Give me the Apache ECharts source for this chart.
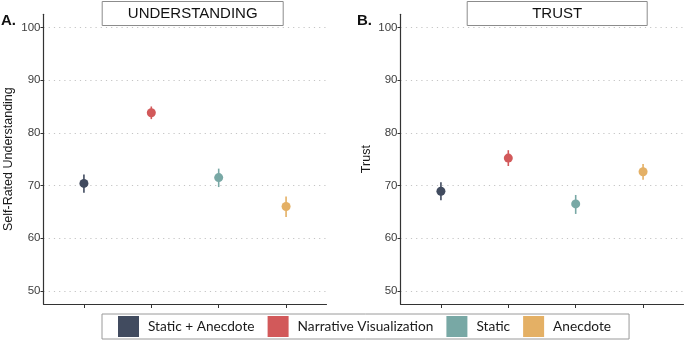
<!DOCTYPE html>
<html>
<head>
<meta charset="utf-8">
<script src="https://cdn.jsdelivr.net/npm/echarts@6/dist/echarts.min.js"></script>
<style>
  html, body { margin: 0; padding: 0; background: #fff; }
  #chart { width: 685px; height: 342px; }
</style>
</head>
<body>
<div id="chart"></div>
<script>
// groups in plotting order
const groups = ['Static + Anecdote', 'Narrative Visualization', 'Static', 'Anecdote']
const groupColors = ['#414b5f', '#d2595a', '#78a8a5', '#e4b065']
const xPositions = [1, 2, 3, 4]

// panel A: self-rated understanding
const understandingMean = [70.4, 83.8, 71.5, 66.0]
const understandingLow = [68.6, 82.6, 69.7, 64.0]
const understandingHigh = [72.1, 85.0, 73.2, 67.9]

// panel B: trust
const trustMean = [68.9, 75.2, 66.5, 72.6]
const trustLow = [67.2, 73.7, 64.6, 71.1]
const trustHigh = [70.6, 76.7, 68.2, 74.1]

const yTicks = [50, 60, 70, 80, 90, 100]

const font = '"Liberation Sans", Arial, sans-serif'

function yAxisFor(gridIndex, title, nameGap) {
  return {
    gridIndex: gridIndex,
    type: 'value',
    min: 47.5,
    max: 102.5,
    name: title,
    nameLocation: 'middle',
    nameGap: nameGap,
    nameTextStyle: { color: '#1a1a1a', fontSize: 12.5, fontFamily: font },
    axisLine: { show: true, lineStyle: { color: '#333', width: 1.2 } },
    axisTick: { show: true, length: 3, customValues: yTicks, lineStyle: { color: '#333' } },
    axisLabel: { customValues: yTicks, color: '#3d3d3d', fontSize: 11.5, fontFamily: font, margin: 3 },
    splitLine: { show: true, lineStyle: { color: '#c4c4c4', type: [1.2, 4], width: 1 } },
  }
}

function xAxisFor(gridIndex) {
  return {
    gridIndex: gridIndex,
    type: 'value',
    min: 0.4,
    max: 4.6,
    axisLine: { show: true, onZero: false, lineStyle: { color: '#333', width: 1.2 } },
    axisTick: { show: true, length: 4, customValues: xPositions, lineStyle: { color: '#333' } },
    axisLabel: { show: false },
    splitLine: { show: false },
  }
}

function errorBars(gridIndex, low, high) {
  return {
    type: 'custom',
    xAxisIndex: gridIndex,
    yAxisIndex: gridIndex,
    silent: true,
    z: 1,
    data: xPositions.map((x, i) => [x, low[i], high[i]]),
    renderItem: function (params, api) {
      const a = api.coord([api.value(0), api.value(1)])
      const b = api.coord([api.value(0), api.value(2)])
      return {
        type: 'line',
        shape: { x1: a[0], y1: a[1], x2: b[0], y2: b[1] },
        style: { stroke: groupColors[params.dataIndex], lineWidth: 1.6 },
      }
    },
  }
}

function points(gridIndex, mean) {
  return groups.map((g, i) => ({
    name: g,
    type: 'scatter',
    xAxisIndex: gridIndex,
    yAxisIndex: gridIndex,
    symbolSize: 9,
    z: 3,
    itemStyle: { color: groupColors[i], opacity: 1 },
    data: [[xPositions[i], mean[i]]],
  }))
}

function stripBox(left, width, label) {
  return {
    type: 'group',
    left: left,
    top: 1,
    children: [
      {
        type: 'rect',
        shape: { x: 0, y: 0, width: width, height: 24 },
        style: { fill: '#fff', stroke: '#8c8c8c', lineWidth: 1 },
      },
      {
        type: 'text',
        x: width / 2,
        y: 12.5,
        style: {
          text: label, fill: '#111', fontSize: 15, fontFamily: font,
          align: 'center', verticalAlign: 'middle',
        },
      },
    ],
  }
}

const myChart = echarts.init(document.getElementById('chart'))
const option = {
  animation: false,
  backgroundColor: '#fff',
  grid: [
    { left: 43.5, top: 14.3, width: 283, height: 289.7 },
    { left: 400.5, top: 14.3, width: 283, height: 289.7 },
  ],
  xAxis: [xAxisFor(0), xAxisFor(1)],
  yAxis: [yAxisFor(0, 'Self-Rated Understanding', 28), yAxisFor(1, 'Trust', 27)],
  legend: {
    data: groups,
    left: 102,
    top: 314,
    icon: 'rect',
    itemWidth: 21,
    itemHeight: 21,
    itemGap: 13,
    padding: [2, 18, 2, 16],
    borderColor: '#9a9a9a',
    borderWidth: 1,
    selectedMode: false,
    textStyle: { color: '#1a1a1a', fontSize: 13.7, fontFamily: 'Lato, "Open Sans", sans-serif', padding: [0, 0, 0, 4] },
  },
  graphic: [
    stripBox(101.7, 181, 'UNDERSTANDING'),
    stripBox(466.7, 180, 'TRUST'),
    { type: 'text', left: 1, top: 13, style: { text: 'A.', fill: '#111', fontSize: 15, fontFamily: font, fontWeight: 'bold' } },
    { type: 'text', left: 357, top: 13, style: { text: 'B.', fill: '#111', fontSize: 15, fontFamily: font, fontWeight: 'bold' } },
  ],
  series: [
    errorBars(0, understandingLow, understandingHigh),
    errorBars(1, trustLow, trustHigh),
    ...points(0, understandingMean),
    ...points(1, trustMean),
  ],
}
myChart.setOption(option, true)
</script>
</body>
</html>
